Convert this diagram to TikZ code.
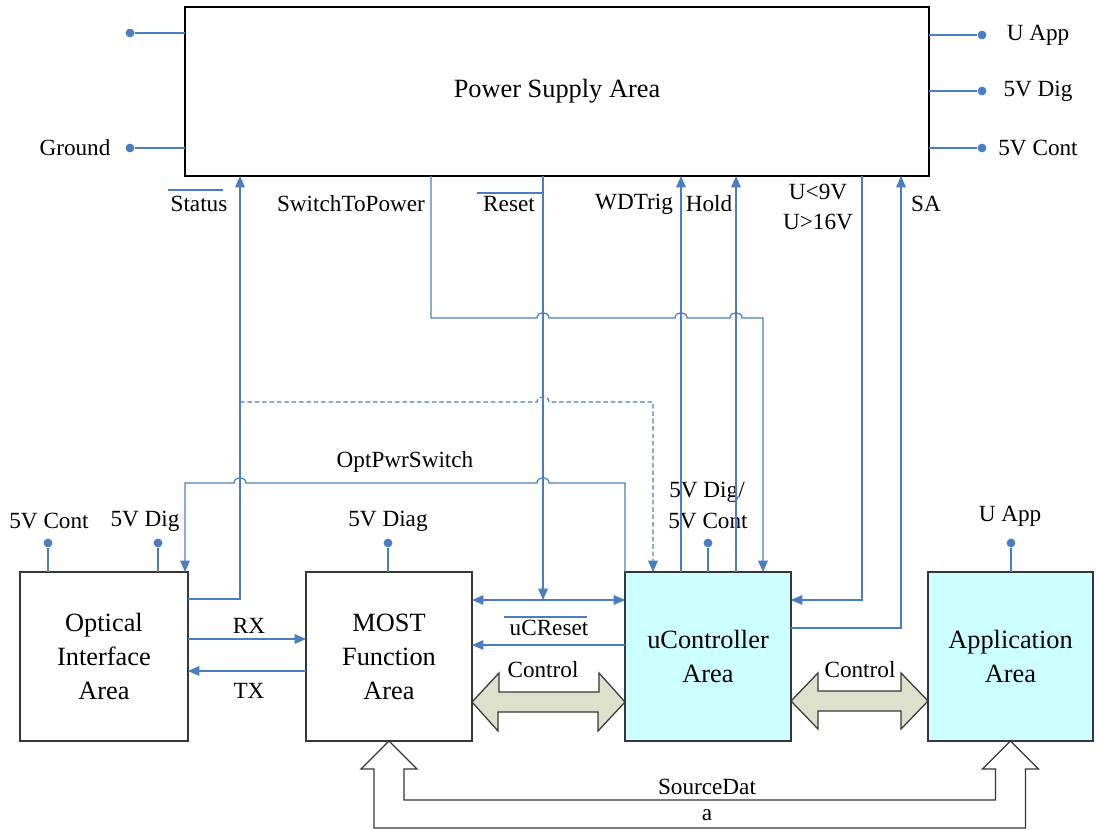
\documentclass[tikz,border=0pt]{standalone}
\usepackage{fontspec}
\setmainfont{Liberation Serif}
\usetikzlibrary{arrows.meta,calc}
\definecolor{wireblue}{RGB}{74,126,193}
\definecolor{cyanbox}{RGB}{204,255,255}
\definecolor{busfill}{RGB}{221,224,202}
\definecolor{edgegray}{RGB}{55,55,55}
\begin{document}
\begin{tikzpicture}[x=0.02cm,y=-0.02cm,
  lbl/.style={font=\fontsize{13.2}{15}\selectfont, inner sep=0pt, align=center},
  blk/.style={draw=edgegray, line width=0.8pt, inner sep=0pt, outer sep=0pt,
    align=center, font=\fontsize{15}{19.3}\selectfont},
  wire/.style={draw=wireblue, line width=0.7pt},
  sig/.style={wire, -{Triangle[length=6.5pt,width=5.5pt]}},
  sigboth/.style={wire, {Triangle[length=6.5pt,width=5.5pt]}-{Triangle[length=6.5pt,width=5.5pt]}},
  pin/.style={circle, fill=wireblue, inner sep=0pt, minimum size=5pt},
  bus/.style={draw=edgegray, line width=0.7pt, fill=busfill, line join=miter},
  hollow/.style={draw=edgegray, line width=0.7pt, fill=white, line join=miter}
]
\useasboundingbox (0,0) rectangle (1097,830);

% ---------- blocks ----------
\node[blk, draw=black, minimum width=14.88cm, minimum height=3.38cm] (psa) at (557,91.5) {Power Supply Area};
\node[blk, minimum width=3.36cm, minimum height=3.38cm] (opt) at (104,656.5) {Optical\\Interface\\Area};
\node[blk, minimum width=3.32cm, minimum height=3.38cm] (most) at (389,656.5) {MOST\\Function\\Area};
\node[blk, fill=cyanbox, minimum width=3.32cm, minimum height=3.38cm] (uc) at (708,656.5) {uController\\Area};
\node[blk, fill=cyanbox, minimum width=3.30cm, minimum height=3.38cm] (app) at (1010.5,656.5) {Application\\Area};

% ---------- supply pins of the power block ----------
\node[pin] (pl1) at (130,33) {};
\node[pin] (pl2) at (130,148) {};
\node[pin] (pr1) at (982,35) {};
\node[pin] (pr2) at (982,91) {};
\node[pin] (pr3) at (982,148) {};
\draw[wire] (psa.west |- pl1) -- (pl1);
\draw[wire] (psa.west |- pl2) -- (pl2);
\draw[wire] (psa.east |- pr1) -- (pr1);
\draw[wire] (psa.east |- pr2) -- (pr2);
\draw[wire] (psa.east |- pr3) -- (pr3);
\node[lbl] (tGnd) at (75,148) {Ground};
\node[lbl] (tUApp) at (1038,35) {U App};
\node[lbl] (t5Dig) at (1038,91) {5V Dig};
\node[lbl] (t5Cont) at (1038,148) {5V Cont};

% ---------- supply pins of the lower blocks ----------
\node[pin] (po1) at (48,543) {};
\node[pin] (po2) at (158,543) {};
\node[pin] (pm) at (388,543) {};
\node[pin] (pu) at (708,543) {};
\node[pin] (pa) at (1011,543) {};
\draw[wire] (po1) -- (po1 |- opt.north);
\draw[wire] (po2) -- (po2 |- opt.north);
\draw[wire] (pm) -- (pm |- most.north);
\draw[wire] (pu) -- (pu |- uc.north);
\draw[wire] (pa) -- (pa |- app.north);
\node[lbl] (tOC) at (49,521) {5V Cont};
\node[lbl] (tOD) at (145,521) {5V Dig};
\node[lbl] (tMD) at (388,521) {5V Diag};
\node[lbl] (tU1) at (707,492) {5V Dig/};
\node[lbl] (tU2) at (708,521) {5V Cont};
\node[lbl] (tAU) at (1010,516) {U App};

% ---------- routing points ----------
\coordinate (st) at (240,599);
\coordinate (swa) at (431,318);
\coordinate (swb) at (763,318);
\coordinate (rs) at (543,600);
\coordinate (ucr) at (0,645);
\coordinate (wd) at (681,0);
\coordinate (hd) at (736,0);
\coordinate (uv) at (862,600);
\coordinate (sa) at (901,628);
\coordinate (dsa) at (240,402);
\coordinate (dsb) at (653,402);
\coordinate (oprow) at (0,483);
\coordinate (opb) at (185,483);
\coordinate (rx) at (0,639);
\coordinate (tx) at (0,671);

% ---------- signals ----------
% Status
\draw[sig] (opt.east |- st) -- (st) -- (st |- psa.south);
% SwitchToPower, hopping over Reset, WDTrig and Hold
\draw[sig] (swa |- psa.south) -- (swa) -- (537,318)
  .. controls (537,311) and (549,311) .. (549,318) -- (675,318)
  .. controls (675,311) and (687,311) .. (687,318) -- (730,318)
  .. controls (730,311) and (742,311) .. (742,318) -- (swb) -- (swb |- uc.north);
% Reset
\draw[sig] (rs |- psa.south) -- (rs);
\draw[sigboth] (most.east |- rs) -- (uc.west |- rs);
% uCReset
\draw[sig] (uc.west |- ucr) -- (most.east |- ucr);
% WDTrig and Hold
\draw[sig] (wd |- uc.north) -- (wd |- psa.south);
\draw[sig] (hd |- uc.north) -- (hd |- psa.south);
% U<9V / U>16V
\draw[sig] (uv |- psa.south) -- (uv) -- (uc.east |- uv);
% SA
\draw[sig] (uc.east |- sa) -- (sa) -- (sa |- psa.south);
% dashed branch of Status to the controller
\draw[sig, dashed, dash pattern=on 2.6pt off 1.6pt] (dsa) -- (537,402)
  .. controls (537,395) and (549,395) .. (549,402) -- (dsb) -- (dsb |- uc.north);
% OptPwrSwitch
\draw[sig] (uc.north west) -- (uc.north west |- oprow) -- (549,483)
  .. controls (549,476) and (537,476) .. (537,483) -- (246,483)
  .. controls (246,476) and (234,476) .. (234,483) -- (opb) -- (opb |- opt.north);
% RX / TX
\draw[sig] (opt.east |- rx) -- (most.west |- rx);
\draw[sig] (most.west |- tx) -- (opt.east |- tx);

% ---------- signal labels ----------
\node[lbl] (tStatus) at (199,204) {Status};
\draw[wire] (168,190) -- (223,190);
\node[lbl] (tSw) at (351,204) {SwitchToPower};
\node[lbl] (tReset) at (509,204) {Reset};
\draw[wire] (477,193) -- (543,193);
\node[lbl] (tWD) at (634,204) {WDTrig};
\node[lbl] (tHold) at (709,204) {Hold};
\node[lbl] (tU9) at (818,192) {U<9V};
\node[lbl] (tU16) at (818,222) {U>16V};
\node[lbl] (tSA) at (926,204) {SA};
\node[lbl] (tOpt) at (405,462) {OptPwrSwitch};
\node[lbl] (tRX) at (249,626) {RX};
\node[lbl] (tTX) at (249,691) {TX};
\node[lbl] (tUCR) at (549,628) {uCReset};
\draw[wire] (504,617) -- (587,617);

% ---------- control buses ----------
\coordinate (c1a) at (most.east |- 0,702);
\coordinate (c1b) at (uc.west |- 0,702);
\draw[bus] (c1a) -- ++(27,-29) -- ++(0,19) -- ++(100,0) -- ++(0,-19) -- (c1b)
  -- ++(-27,29) -- ++(0,-19) -- ++(-100,0) -- ++(0,19) -- cycle;
\node[lbl] (tC1) at (543,670) {Control};
\coordinate (c2a) at (uc.east |- 0,701);
\coordinate (c2b) at (app.west |- 0,701);
\draw[bus] (c2a) -- ++(27,-28) -- ++(0,18) -- ++(83,0) -- ++(0,-18) -- (c2b)
  -- ++(-27,28) -- ++(0,-18) -- ++(-83,0) -- ++(0,18) -- cycle;
\node[lbl] (tC2) at (860,670) {Control};

% ---------- source data path ----------
\draw[hollow] (most.south) -- ++(28,28) -- ++(-13,0) |- ($(app.south)+(-15,59)$)
  -- ++(0,-31) -- ++(-13,0) -- (app.south) -- ++(28,28) -- ++(-13,0)
  |- ($(most.south)+(-15,87)$) -- ++(0,-59) -- ++(-13,0) -- cycle;
\node[lbl] (tSD1) at (707,787) {SourceDat};
\node[lbl] (tSD2) at (707,815) {a};
\end{tikzpicture}
\end{document}
